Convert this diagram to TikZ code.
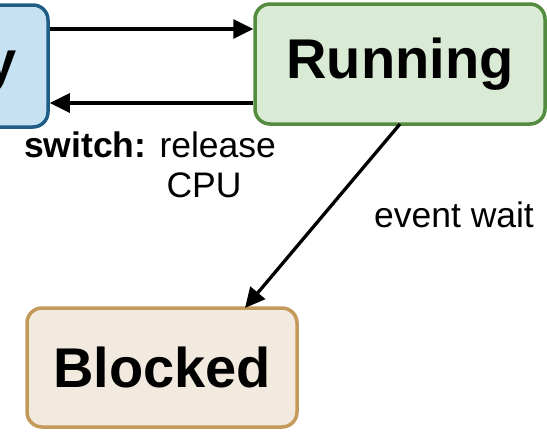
\documentclass[tikz,border=0pt]{standalone}
\usepackage{fontspec}
\setmainfont{Liberation Sans}
\usetikzlibrary{arrows.meta}
\definecolor{rfill}{HTML}{C6E2F2}
\definecolor{rline}{HTML}{1F5D86}
\definecolor{gfill}{HTML}{D9EAD5}
\definecolor{gline}{HTML}{548C3F}
\definecolor{bfill}{HTML}{F2EADE}
\definecolor{bline}{HTML}{C49A5A}
\tikzset{
  statebox/.style={rounded corners=15pt, line width=3.5pt, inner sep=0pt, font=\fontsize{56}{60}\selectfont\bfseries},
  conn/.style={line width=3.3pt, -{Triangle[length=20pt,width=19pt]}},
  elabel/.style={font=\fontsize{35.5}{40}\selectfont, align=center, inner sep=0pt}
}
\begin{document}
\begin{tikzpicture}[x=1pt,y=-1pt]
\useasboundingbox (0,0) rectangle (547,432);
\clip (0,0) rectangle (547,432);
\node[statebox, draw=rline, fill=rfill, minimum width=230pt, minimum height=122pt] (ready) at (-67,66) {Ready};
\node[statebox, draw=gline, fill=gfill, minimum width=290pt, minimum height=120pt] (running) at (400,64) {Running};
\node[statebox, draw=bline, fill=bfill, minimum width=270pt, minimum height=119pt] (blocked) at (162,367.5) {Blocked};
\draw[conn] (ready.east |- 0,29) -- (running.west |- 0,29);
\draw[conn] (running.west |- 0,103) -- (ready.east |- 0,103);
\coordinate (dstart) at (400,124);
\coordinate (dend) at (245,308);
\draw[conn] (dstart) -- (dend);
\node[elabel, anchor=base] (swl) at (150,157) {\textbf{switch:} release};
\node[elabel, anchor=base] (cpu) at (204,197) {CPU};
\node[elabel, anchor=base] (ew) at (454,227) {event wait};
\end{tikzpicture}
\end{document}
